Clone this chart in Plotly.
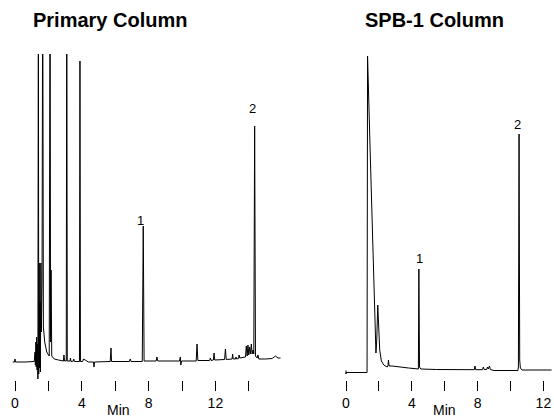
import plotly.graph_objects as go

# ---- Data (time in min, detector signal in arbitrary units) ----
primary_time = [-0.14, -0.03, 0.0, 0.03, 0.6, 1.15,
                1.20, 1.22, 1.25, 1.27, 1.30, 1.32, 1.35, 1.37, 1.40, 1.42, 1.45, 1.47, 1.50, 1.52,
                1.55, 1.58, 1.62, 1.66, 1.70, 1.78, 1.90, 2.05, 2.10, 2.13, 2.16, 2.20, 2.35, 2.60,
                2.90, 2.93, 2.97, 3.07, 3.10, 3.13, 3.30, 3.32, 3.35, 3.50, 3.52, 3.55, 3.86, 3.89,
                3.92, 4.05, 4.10, 4.20, 4.40, 4.70, 4.73, 4.76, 5.70, 5.75, 5.78, 6.85, 6.90, 6.95,
                7.62, 7.68, 7.73, 8.45, 8.50, 8.55, 9.85, 9.90, 9.93, 9.97, 10.85, 10.90, 10.95,
                11.65, 11.70, 11.75, 11.88, 11.92, 11.96, 12.55, 12.60, 12.65, 13.00, 13.03, 13.07,
                13.20, 13.23, 13.27, 13.38, 13.42, 13.46, 13.80, 13.85, 13.90, 13.95, 14.00, 14.05,
                14.10, 14.15, 14.20, 14.25, 14.30, 14.35, 14.40, 14.50, 14.55, 14.60, 15.00, 15.40,
                15.60, 15.75, 15.90]
primary_signal = [0, 0, 3, 0, 0, 0.5,
                  10, -3, 20, -5, 25, -8, 18, -17, 400, -12, 99, -6, 60, -10,
                  99, 30, 80, 400, 35, 20, 10, 6, 400, 20, 92, 6, 3, 2,
                  1, 7, 1, 1, 400, 1, 1, 4, 0.5, 1, 3, 0.5, 0.5, 301,
                  0.5, 0.5, 3, 2, 0, 0, -5, 0, 0.5, 14, 0.5, 0.5, 3, 0.5,
                  0.5, 136, 1, 1, 5, 1, 1, 5, -3, 1, 1, 18, 1.5,
                  1.5, 4, 1.5, 2, 9, 2, 2.5, 13, 2.5, 3, 8, 3,
                  3, 5, 3, 3.5, 7, 4, 5, 16, 6, 17, 7, 15,
                  8, 18, 8, 12, 8, 236, 6, 4, 7, 3, 3, 3.5,
                  6, 4, 4]

spb_time = [0.0, 0.0, 0.0, 1.28, 1.30, 1.31, 1.45, 1.60, 1.72, 1.82, 1.87, 1.93, 1.97, 2.05,
            2.15, 2.30, 2.50, 2.55, 2.58, 2.62, 2.80, 3.20, 3.80, 4.40, 4.43, 4.47, 4.55, 5.50,
            6.50, 7.80, 7.84, 7.88, 8.30, 8.35, 8.40, 8.55, 8.60, 8.65, 8.72, 8.78, 9.00, 10.45,
            10.48, 10.52, 10.56, 10.60, 10.70, 12.50]
spb_signal = [-0.5, -4, -2.5, -2.5, 150, 314, 230, 140, 60, 17, 30, 65, 50, 20,
              9, 5, 3, 4, 10, 4, 4, 3, 2, 1, 101, 3, 1, 0.5,
              0.3, 0.3, 4, 0.3, 0.3, 3, 0.5, 0.5, 3, 1, 4, 0.5, -0.5, -0.5,
              3, 236, 10, 2, 0, 0]

primary_ticks = [0, 2, 4, 6, 8, 10, 12, 14]
primary_ticktext = ["0", "", "4", "", "8", "", "12", ""]
spb_ticks = [0, 2, 4, 6, 8, 10, 12]
spb_ticktext = ["0", "", "4", "", "8", "", "12"]

peak_labels = ["1", "2"]
primary_label_x = [7.49, 14.2]
primary_label_y = [142, 254]
spb_label_x = [4.46, 10.45]
spb_label_y = [112, 246]

titles = ["Primary Column", "SPB-1 Column"]

FONT = "Arial, 'Liberation Sans', sans-serif"
W, H = 554, 419

fig = go.Figure()
fig.add_trace(go.Scatter(x=primary_time, y=primary_signal, mode="lines",
                         line=dict(color="black", width=1), xaxis="x", yaxis="y",
                         hoverinfo="skip"))
fig.add_trace(go.Scatter(x=spb_time, y=spb_signal, mode="lines",
                         line=dict(color="black", width=1), xaxis="x2", yaxis="y2",
                         hoverinfo="skip"))

ydom = [(H - 380) / H, (H - 54) / H]
common_x = dict(showgrid=False, zeroline=False, showline=False, ticks="outside",
                ticklen=10, tickwidth=1, tickcolor="black",
                tickfont=dict(family=FONT, size=14, color="black"), fixedrange=True)
fig.update_layout(
    width=W, height=H, margin=dict(l=0, r=0, t=0, b=0),
    paper_bgcolor="white", plot_bgcolor="white", showlegend=False,
    xaxis=dict(domain=[10 / W, 285 / W], range=[(10 - 15) / 16.7, (285 - 15) / 16.7],
               tickvals=primary_ticks, ticktext=primary_ticktext, anchor="y", **common_x),
    yaxis=dict(domain=ydom, range=[-18, 308], visible=False, anchor="x"),
    xaxis2=dict(domain=[340 / W, 1.0], range=[(340 - 346) / 16.45, (554 - 346) / 16.45],
                tickvals=spb_ticks, ticktext=spb_ticktext, anchor="y2", **common_x),
    yaxis2=dict(domain=ydom, range=[-10, 316], visible=False, anchor="x2"),
)

ann = []
for t, cx in zip(titles, [110, 434]):
    ann.append(dict(text="<b>" + t + "</b>", x=cx / W, y=(H - 20) / H, xref="paper", yref="paper",
                    xanchor="center", yanchor="middle", showarrow=False,
                    font=dict(family=FONT, size=20, color="black")))
for cx in [118, 444]:
    ann.append(dict(text="Min", x=cx / W, y=(H - 410) / H, xref="paper", yref="paper",
                    xanchor="center", yanchor="middle", showarrow=False,
                    font=dict(family=FONT, size=14, color="black")))
for lab, lx, ly in zip(peak_labels, primary_label_x, primary_label_y):
    ann.append(dict(text=lab, x=lx, y=ly, xref="x", yref="y", showarrow=False,
                    xanchor="center", yanchor="middle",
                    font=dict(family=FONT, size=13, color="black")))
for lab, lx, ly in zip(peak_labels, spb_label_x, spb_label_y):
    ann.append(dict(text=lab, x=lx, y=ly, xref="x2", yref="y2", showarrow=False,
                    xanchor="center", yanchor="middle",
                    font=dict(family=FONT, size=13, color="black")))
fig.update_layout(annotations=ann)

fig.write_html("out.html")
